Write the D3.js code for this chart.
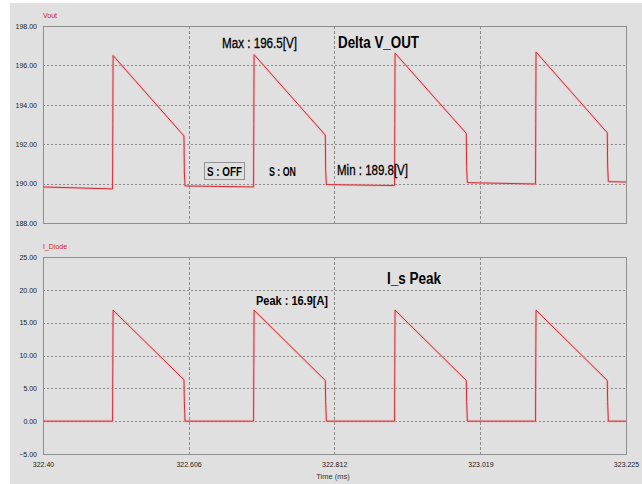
<!DOCTYPE html>
<html>
<head>
<meta charset="utf-8">
<script src="https://cdn.jsdelivr.net/npm/d3@7"></script>
<style>
  html, body { margin: 0; padding: 0; background: #fff; }
  svg { display: block; }
  text { font-family: "Liberation Sans", Arial, sans-serif; }
</style>
</head>
<body>
<script>
// Time axis (ms)
const timeDomain = [322.40, 323.225];
const timeTicks = [322.40, 322.606, 322.812, 323.019, 323.225];
const timeTickLabels = ["322.40", "322.606", "322.812", "323.019", "323.225"];

// Output voltage trace
const voutTime = [322.400, 322.4985, 322.4988, 322.4992, 322.5995, 322.6000, 322.6010,
                  322.6980, 322.6983, 322.6987, 322.7995, 322.8000, 322.8010,
                  322.8975, 322.8978, 322.8982, 322.9990, 322.9995, 323.0005,
                  323.0970, 323.0973, 323.0977, 323.1985, 323.1990, 323.2000, 323.225];
const voutValue = [189.83, 189.73, 193.0, 196.50, 192.42, 190.6, 189.88,
                   189.83, 193.0, 196.55, 192.46, 190.7, 189.95,
                   189.90, 193.0, 196.62, 192.55, 190.8, 190.05,
                   189.98, 193.0, 196.68, 192.58, 190.9, 190.10, 190.08];
const voutTicks = [188, 190, 192, 194, 196, 198];

// Diode current trace
const idiodeTime = [322.400, 322.4985, 322.4988, 322.4992, 322.5995, 322.6000, 322.6010,
                    322.6980, 322.6983, 322.6987, 322.7995, 322.8000, 322.8010,
                    322.8975, 322.8978, 322.8982, 322.9990, 322.9995, 323.0005,
                    323.0970, 323.0973, 323.0977, 323.1985, 323.1990, 323.2000, 323.225];
const idiodeValue = [0, 0, 8.3, 16.9, 6.3, 3.0, 0,
                     0, 8.3, 16.9, 6.2, 3.0, 0,
                     0, 8.3, 16.9, 6.2, 3.0, 0,
                     0, 8.3, 16.9, 6.2, 3.0, 0, 0];
const idiodeTicks = [-5, 0, 5, 10, 15, 20, 25];

const W = 642, H = 484;
const svg = d3.select("body").append("svg").attr("width", W).attr("height", H);

// panel backdrop with a thin white margin at the top-left
svg.append("rect").attr("x", 0).attr("y", 0).attr("width", W).attr("height", H).attr("fill", "#ffffff");
svg.append("rect").attr("x", 10).attr("y", 3).attr("width", W - 10).attr("height", H - 3).attr("fill", "#e0e0e0");

const left = 43, right = 626;
const x = d3.scaleLinear().domain(timeDomain).range([left, right]);

const panels = [
  { name: "Vout", top: 26, bottom: 223, domain: [188, 198], ticks: voutTicks, t: voutTime, v: voutValue },
  { name: "I_Diode", top: 257, bottom: 454, domain: [-5, 25], ticks: idiodeTicks, t: idiodeTime, v: idiodeValue }
];

panels.forEach((p) => {
  const y = d3.scaleLinear().domain(p.domain).range([p.bottom, p.top]);
  const g = svg.append("g");

  // horizontal grid
  g.selectAll("line.hg").data(p.ticks.filter(d => d !== p.domain[0] && d !== p.domain[1]))
    .join("line").attr("class", "hg")
    .attr("x1", left).attr("x2", right)
    .attr("y1", d => Math.round(y(d)) + 0.5).attr("y2", d => Math.round(y(d)) + 0.5)
    .attr("stroke", "#8a8a8a").attr("stroke-width", 1).attr("stroke-dasharray", "2,2");

  // vertical grid
  g.selectAll("line.vg").data(timeTicks.slice(1, -1))
    .join("line").attr("class", "vg")
    .attr("x1", d => Math.round(x(d)) + 0.5).attr("x2", d => Math.round(x(d)) + 0.5)
    .attr("y1", p.top).attr("y2", p.bottom)
    .attr("stroke", "#8a8a8a").attr("stroke-width", 1).attr("stroke-dasharray", "3,2");

  // frame
  g.append("rect").attr("x", left + 0.5).attr("y", p.top + 0.5)
    .attr("width", right - left).attr("height", p.bottom - p.top)
    .attr("fill", "none").attr("stroke", "#8e8e8e").attr("stroke-width", 1);

  // y axis labels
  const ax = d3.axisLeft(y).tickValues(p.ticks).tickSize(0).tickPadding(6).tickFormat(d3.format(".2f"));
  const axg = g.append("g").attr("transform", `translate(${left},0)`).call(ax);
  axg.select(".domain").remove();
  axg.selectAll("text").attr("font-size", 7).attr("fill", "#222")
    .attr("font-family", "'Liberation Sans', Arial, sans-serif");

  // panel title
  g.append("text").attr("x", left).attr("y", p.top - 8).text(p.name)
    .attr("font-size", 7).attr("fill", "#d02020");

  // trace: soft pink edge under a thin red line
  const pts = p.t.map((t, i) => [t, p.v[i]]);
  const line = d3.line().x(d => x(d[0])).y(d => y(d[1]));
  g.append("path").datum(pts).attr("d", line)
    .attr("fill", "none").attr("stroke", "#f2a6ae").attr("stroke-width", 2.6).attr("stroke-opacity", 0.45)
    .attr("stroke-linejoin", "round");
  g.append("path").datum(pts).attr("d", line)
    .attr("fill", "none").attr("stroke", "#d42c36").attr("stroke-width", 1)
    .attr("stroke-linejoin", "round");
});

// time axis labels
const xa = d3.axisBottom(x).tickValues(timeTicks).tickSize(0).tickPadding(8)
  .tickFormat((d, i) => timeTickLabels[i]);
const xag = svg.append("g").attr("transform", `translate(0,${panels[1].bottom})`).call(xa);
xag.select(".domain").remove();
xag.selectAll("text").attr("font-size", 7).attr("fill", "#222")
  .attr("font-family", "'Liberation Sans', Arial, sans-serif");

svg.append("text").attr("x", 333).attr("y", 479).attr("text-anchor", "middle")
  .attr("font-size", 7.5).attr("fill", "#333").text("Time (ms)");

// annotations
function note(txt, xPos, yPos, size, weight, len) {
  const t = svg.append("text").attr("x", xPos).attr("y", yPos).text(txt)
    .attr("font-size", size).attr("font-weight", weight).attr("fill", "#000");
  if (len) t.attr("textLength", len).attr("lengthAdjust", "spacingAndGlyphs");
  return t;
}
note("Max : 196.5[V]", 222, 48, 14, "normal", 75).attr("stroke", "#000").attr("stroke-width", 0.3);
note("Delta V_OUT", 338, 48, 16, "bold", 81);
note("Min : 189.8[V]", 337, 175, 14, "normal", 71).attr("stroke", "#000").attr("stroke-width", 0.3);
note("S : ON", 269, 176, 12, "bold", 27);
svg.append("rect").attr("x", 204.5).attr("y", 162.5).attr("width", 40).attr("height", 17)
  .attr("fill", "none").attr("stroke", "#444").attr("stroke-width", 1).attr("stroke-dasharray", "1,1");
note("S : OFF", 207, 176, 12, "bold", 35);
note("I_s Peak", 387, 284, 16, "bold", 54);
note("Peak : 16.9[A]", 256, 305, 13, "bold", 72);
</script>
</body>
</html>
